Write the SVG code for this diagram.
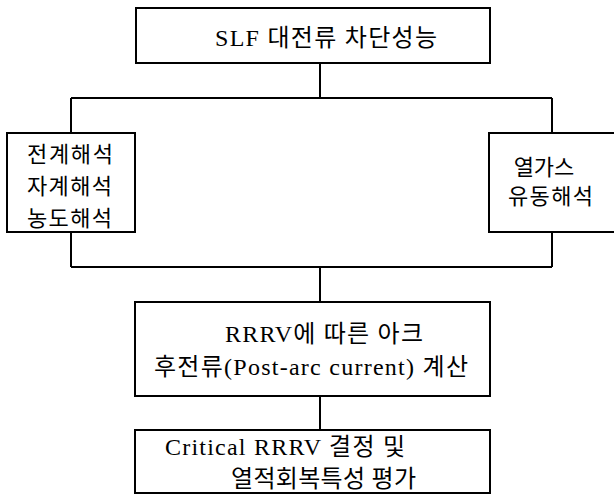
<svg xmlns="http://www.w3.org/2000/svg" width="614" height="496" viewBox="0 0 614 496">
<style>
.box{fill:#fff;stroke:#000;stroke-width:2}
.ln{stroke:#000;stroke-width:2;fill:none}
.t{font-family:"Liberation Serif","Noto Sans CJK KR",serif;font-size:24px;fill:#000}
.k{font-family:"Noto Sans CJK KR","Liberation Serif",sans-serif;font-size:22px;fill:#000}
</style>
<rect width="614" height="496" fill="#fff"/>
<g id="connectors">
<path class="ln" d="M320,63V98M71,98H552M71,98V133M552,98V133"/>
<path class="ln" d="M71,232V267M552,232V267M71,267H552M320,267V302"/>
<path class="ln" d="M320,396V430"/>
</g>
<g id="node-slf">
<rect class="box" x="136" y="8" width="354" height="55"/>
<text class="t" x="215" y="46" textLength="222">SLF 대전류 차단성능</text>
</g>
<g id="node-field">
<rect class="box" x="7" y="133" width="128" height="99"/>
<text class="k" x="27" y="162" textLength="86">전계해석</text>
<text class="k" x="27" y="194" textLength="85">자계해석</text>
<text class="k" x="27" y="226" textLength="85">농도해석</text>
</g>
<g id="node-gas">
<rect class="box" x="489" y="133" width="140" height="99"/>
<text class="k" x="544" y="175" text-anchor="middle">열가스</text>
<text class="k" x="508" y="204" textLength="85">유동해석</text>
</g>
<g id="node-postarc">
<rect class="box" x="135" y="302" width="355" height="94"/>
<text class="t" x="225" y="342" textLength="198">RRRV에 따른 아크</text>
<text class="t" x="154" y="375" textLength="314">후전류(Post-arc current) 계산</text>
</g>
<g id="node-critical">
<rect class="box" x="135" y="430" width="355" height="63"/>
<text class="t" x="165" y="455" textLength="240">Critical RRRV 결정 및</text>
<text class="t" x="231" y="487" textLength="185">열적회복특성 평가</text>
</g>
</svg>
